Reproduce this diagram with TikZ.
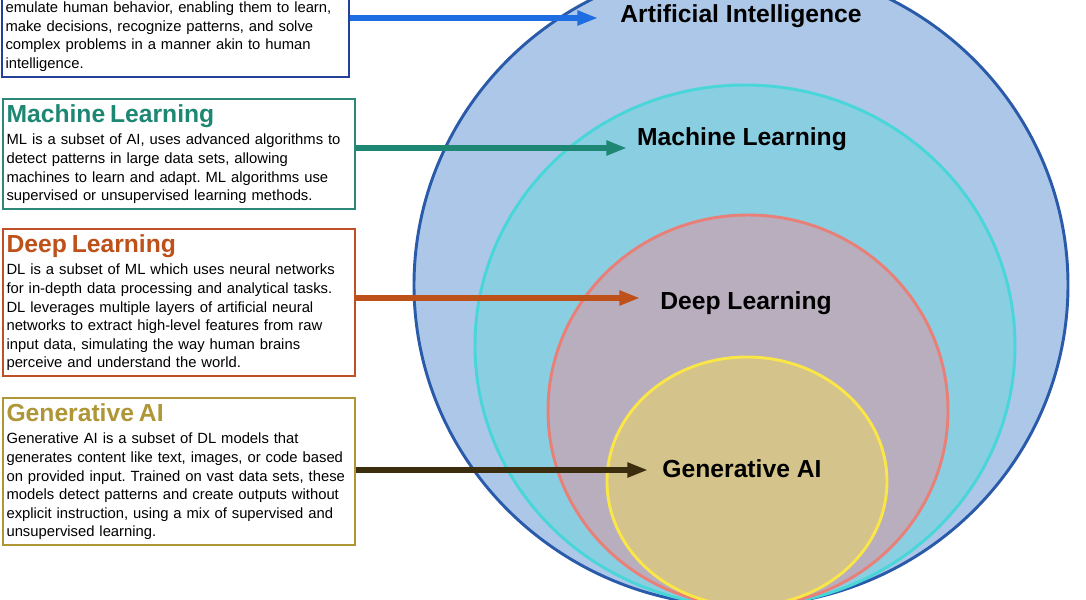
\documentclass[tikz,border=0pt]{standalone}
\usepackage{fontspec}
\setmainfont{Liberation Sans}
\usetikzlibrary{arrows.meta}
\frenchspacing
\definecolor{aifill}{RGB}{173,199,232}
\definecolor{ailine}{RGB}{42,90,170}
\definecolor{mlfill}{RGB}{138,206,226}
\definecolor{mlline}{RGB}{72,214,216}
\definecolor{dlfill}{RGB}{184,174,190}
\definecolor{dlline}{RGB}{232,128,120}
\definecolor{genfill}{RGB}{212,195,138}
\definecolor{genline}{RGB}{250,230,70}
\definecolor{aiedge}{RGB}{35,65,155}
\definecolor{mledge}{RGB}{45,135,120}
\definecolor{dledge}{RGB}{190,80,40}
\definecolor{genedge}{RGB}{175,150,55}
\definecolor{aiarrow}{RGB}{30,110,225}
\definecolor{mlarrow}{RGB}{30,135,115}
\definecolor{dlarrow}{RGB}{190,80,25}
\definecolor{genarrow}{RGB}{60,45,15}
\tikzset{
  area/.style={line width=2.2pt},
  box/.style={draw,line width=1.8pt,fill=white,anchor=north west,text width=259pt,
    align=left,inner xsep=2.5pt,inner ysep=4pt,font=\fontsize{11.1}{13.9}\selectfont},
  lbl/.style={font=\fontsize{18.5}{22}\selectfont\bfseries},
  func/.style={-{Triangle[length=15.5pt,width=10.5pt]},line width=3.8pt},
}
\begin{document}
\begin{tikzpicture}[x=0.75pt,y=-0.75pt]
    \useasboundingbox (0,0) rectangle (1086,600);
    \foreach \cx/\cy/\rx/\ry/\fc/\dc in
      {741/285/327/321/aifill/ailine,745/345.5/270/260.5/mlfill/mlline,
       748/410.5/200/195.5/dlfill/dlline,747/481.5/140/124.5/genfill/genline}
    {
      \draw [area,draw=\dc,fill=\fc] (\cx,\cy) ellipse [x radius=\rx,y radius=\ry];
    }

    \node [box,draw=aiedge,anchor=south west,text width=255pt] (aibox) at (1,78)
      {\mbox{}\\ emulate human behavior, enabling them to learn,\\
       make decisions, recognize patterns, and solve\\
       complex problems in a manner akin to human\\
       intelligence.};
    \node [box,draw=mledge] (mlbox) at (2,98)
      {{\fontsize{18.5}{22}\selectfont\bfseries\color{mlarrow}Machine Learning}\\[3pt]
       ML is a subset of AI, uses advanced algorithms to\\
       detect patterns in large data sets, allowing\\
       machines to learn and adapt. ML algorithms use\\
       supervised or unsupervised learning methods.};
    \node [box,draw=dledge] (dlbox) at (2,228)
      {{\fontsize{18.5}{22}\selectfont\bfseries\color{dlarrow}Deep Learning}\\[3pt]
       DL is a subset of ML which uses neural networks\\
       for in-depth data processing and analytical tasks.\\
       DL leverages multiple layers of artificial neural\\
       networks to extract high-level features from raw\\
       input data, simulating the way human brains\\
       perceive and understand the world.};
    \node [box,draw=genedge] (genbox) at (2,397)
      {{\fontsize{18.5}{22}\selectfont\bfseries\color{genedge}Generative AI}\\[3pt]
       Generative AI is a subset of DL models that\\
       generates content like text, images, or code based\\
       on provided input. Trained on vast data sets, these\\
       models detect patterns and create outputs without\\
       explicit instruction, using a mix of supervised and\\
       unsupervised learning.};

    \coordinate (aitip) at (598,18);
    \coordinate (mltip) at (627,148);
    \coordinate (dltip) at (640,298);
    \coordinate (gentip) at (648,470);
    \draw [func,aiarrow] (aibox.east |- aitip) -- (aitip);
    \draw [func,mlarrow] (mlbox.east |- mltip) -- (mltip);
    \draw [func,dlarrow] (dlbox.east |- dltip) -- (dltip);
    \draw [func,genarrow] (genbox.east |- gentip) -- (gentip);

    \node [lbl] (ailbl) at (741,16) {Artificial Intelligence};
    \node [lbl] (mllbl) at (742,139) {Machine Learning};
    \node [lbl] (dllbl) at (746,303) {Deep Learning};
    \node [lbl] (genlbl) at (742,469) {Generative AI};
\end{tikzpicture}
\end{document}
